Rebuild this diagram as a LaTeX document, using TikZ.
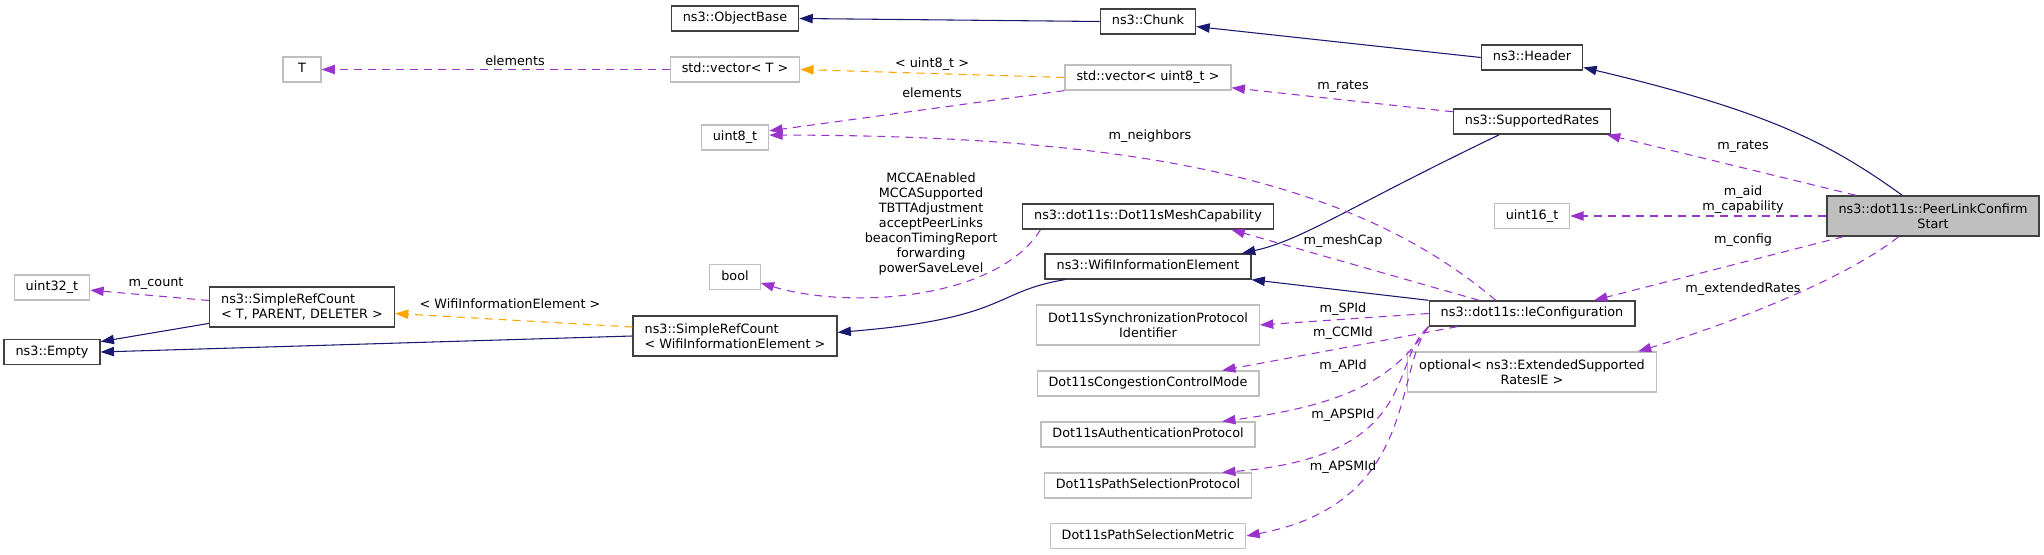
\documentclass[tikz,border=0pt]{standalone}
\usepackage{fontspec}
\setmainfont{DejaVu Sans}
\usepackage{tikz}
\usetikzlibrary{arrows.meta}
\definecolor{inhblue}{RGB}{25,25,112}
\definecolor{usepurple}{RGB}{154,50,205}
\definecolor{tplorange}{RGB}{255,165,0}
\definecolor{docgray}{RGB}{64,64,64}
\definecolor{undocgray}{RGB}{191,191,191}
\newcommand{\graphfont}{\fontsize{9.6}{11.2}\selectfont}

\begin{document}
\begin{tikzpicture}[
  x=0.75pt, y=-0.75pt,
  box/.style  = {rectangle, line width=0.9pt, font=\graphfont, inner xsep=8.6pt},
  cls/.style  = {box, draw=docgray, line width=1.1pt, text height=7.2pt, text depth=2.3pt, inner ysep=4.6pt},
  ext/.style  = {box, draw=undocgray, text height=7.2pt, text depth=2.3pt, inner ysep=4.6pt},
  cls2/.style = {box, draw=docgray, line width=1.1pt, align=left, minimum height=30pt},
  ext2/.style = {box, draw=undocgray, align=center, minimum height=30pt},
  main/.style = {box, draw=docgray, line width=1.1pt, fill=undocgray, align=center, minimum height=30pt},
  inh/.style  = {-{Triangle[length=10pt,width=7pt]}, draw=inhblue, line width=0.8pt},
  use/.style  = {-{Triangle[length=10pt,width=7pt]}, draw=usepurple, line width=0.8pt,
                 dash pattern=on 6pt off 4.5pt},
  tpl/.style  = {-{Triangle[length=10pt,width=7pt]}, draw=tplorange, line width=0.8pt,
                 dash pattern=on 6pt off 4.5pt},
  lbl/.style  = {font=\graphfont, inner sep=0pt, align=center},
]
  \useasboundingbox (0,0) rectangle (2044,555);

  % the class itself
  \node[main] (peer) at (1933,216) {ns3::dot11s::PeerLinkConfirm\\Start};

  % its bases and members
  \node[cls]  (header)   at (1532,57.5)  {ns3::Header};
  \node[cls]  (srates)   at (1532,121.5) {ns3::SupportedRates};
  \node[ext]  (uintsix)  at (1532,216)   {uint16\_t};
  \node[cls]  (iecfg)    at (1532,313.5) {ns3::dot11s::IeConfiguration};
  \node[ext2] (optrates) at (1532,372)   {optional< ns3::ExtendedSupported\\RatesIE >};

  % next column
  \node[cls]  (chunk)      at (1148,21.5)  {ns3::Chunk};
  \node[ext]  (vecuint)    at (1148,77.5)  {std::vector< uint8\_t >};
  \node[cls]  (meshcap)    at (1148,216.5) {ns3::dot11s::Dot11sMeshCapability};
  \node[cls]  (wie)        at (1148,266.5) {ns3::WifiInformationElement};
  \node[ext2] (syncid)     at (1148,325)   {Dot11sSynchronizationProtocol\\Identifier};
  \node[ext]  (ccmode)     at (1148,383.5) {Dot11sCongestionControlMode};
  \node[ext]  (authproto)  at (1148,434.5) {Dot11sAuthenticationProtocol};
  \node[ext]  (pathproto)  at (1148,485.5) {Dot11sPathSelectionProtocol};
  \node[ext]  (pathmetric) at (1148,536)   {Dot11sPathSelectionMetric};

  % further left
  \node[cls]  (objbase)   at (735,18.5)  {ns3::ObjectBase};
  \node[ext]  (vect)      at (735,69.5)  {std::vector< T >};
  \node[ext]  (uinteight) at (735,137.5) {uint8\_t};
  \node[ext]  (boolt)     at (735,277)   {bool};
  \node[cls2] (srcwie)    at (735,336)   {ns3::SimpleRefCount\\< WifiInformationElement >};
  \node[cls2] (srct)      at (302,307)   {ns3::SimpleRefCount\\< T, PARENT, DELETER >};
  \node[ext, minimum width=28.5pt] (tparam) at (302,69.5) {T};
  \node[ext]  (uintthree) at (52,287.5)  {uint32\_t};
  \node[cls]  (empty)     at (52,352)    {ns3::Empty};

  % inheritance
  \draw[inh] (chunk.west) -- (objbase.east);
  \draw[inh] (header.west) -- (chunk.-6);
  \draw[inh] (peer.146) .. controls +(-70,-50) and +(190,45) .. (header.-11);
  \draw[inh] (srates.-158) .. controls +(-150,72) and +(60,-13) .. (wie.8);
  \draw[inh] (iecfg.north west) -- (wie.south east);
  \draw[inh] (wie.-171) .. controls +(-72,12) and +(171,-14) .. (srcwie.2);
  \draw[inh] (srct.-170) -- (empty.12);
  \draw[inh] (srcwie.west) -- (empty.east);

  % templates
  \draw[tpl] (vecuint.west) -- (vect.east) node[lbl] at (932,64) {< uint8\_t >};
  \draw[tpl] (srcwie.175) -- (srct.-4) node[lbl] at (510,304) {< WifiInformationElement >};

  % members
  \draw[use] (vect.west) -- (tparam.east) node[lbl] at (515,61) {elements};
  \draw[use] (vecuint.south west) -- (uinteight.11) node[lbl] at (932,93) {elements};
  \draw[use] (srates.173) -- (vecuint.-7) node[lbl] at (1343,87) {m\_rates};
  \draw[use] (iecfg.160) .. controls +(-130,-110) and +(400,0) .. (uinteight.4)
    node[lbl] at (1150,136) {m\_neighbors};
  \draw[use] (meshcap.-173) .. controls +(-43,70) and +(89,27) .. (boolt.-13)
    node[lbl] at (931,224) {MCCAEnabled\\MCCASupported\\TBTTAdjustment\\acceptPeerLinks\\beaconTimingReport\\forwarding\\powerSaveLevel};
  \draw[use] (iecfg.166) -- (meshcap.-9) node[lbl] at (1343,241) {m\_meshCap};
  \draw[use] (srct.176) -- (uintthree.-4) node[lbl] at (156,284) {m\_count};
  \draw[use] (peer.165) -- (srates.-10) node[lbl] at (1743,147) {m\_rates};
  \draw[use] (peer.west) -- (uintsix.east) node[lbl] at (1743,200) {m\_aid\\m\_capability};
  \draw[use] (peer.-167) -- (iecfg.12) node[lbl] at (1743,240) {m\_config};
  \draw[use] (peer.-149) .. controls +(-50,40) and +(100,-30) .. (optrates.11)
    node[lbl] at (1743,289) {m\_extendedRates};
  \draw[use] (iecfg.west) -- (syncid.east) node[lbl] at (1343,309) {m\_SPId};
  \draw[use] (iecfg.-170) -- (ccmode.10) node[lbl] at (1343,333) {m\_CCMId};
  \draw[use] (iecfg.south west) .. controls +(-35,54) and +(120,-16) .. (authproto.10)
    node[lbl] at (1343,366) {m\_APId};
  \draw[use] (iecfg.south west) .. controls +(-40,34) and +(200,-16) .. (pathproto.10)
    node[lbl] at (1343,415) {m\_APSPId};
  \draw[use] (iecfg.south west) .. controls +(-35,44) and +(173,-33) .. (pathmetric.east)
    node[lbl] at (1343,467) {m\_APSMId};
\end{tikzpicture}
\end{document}
